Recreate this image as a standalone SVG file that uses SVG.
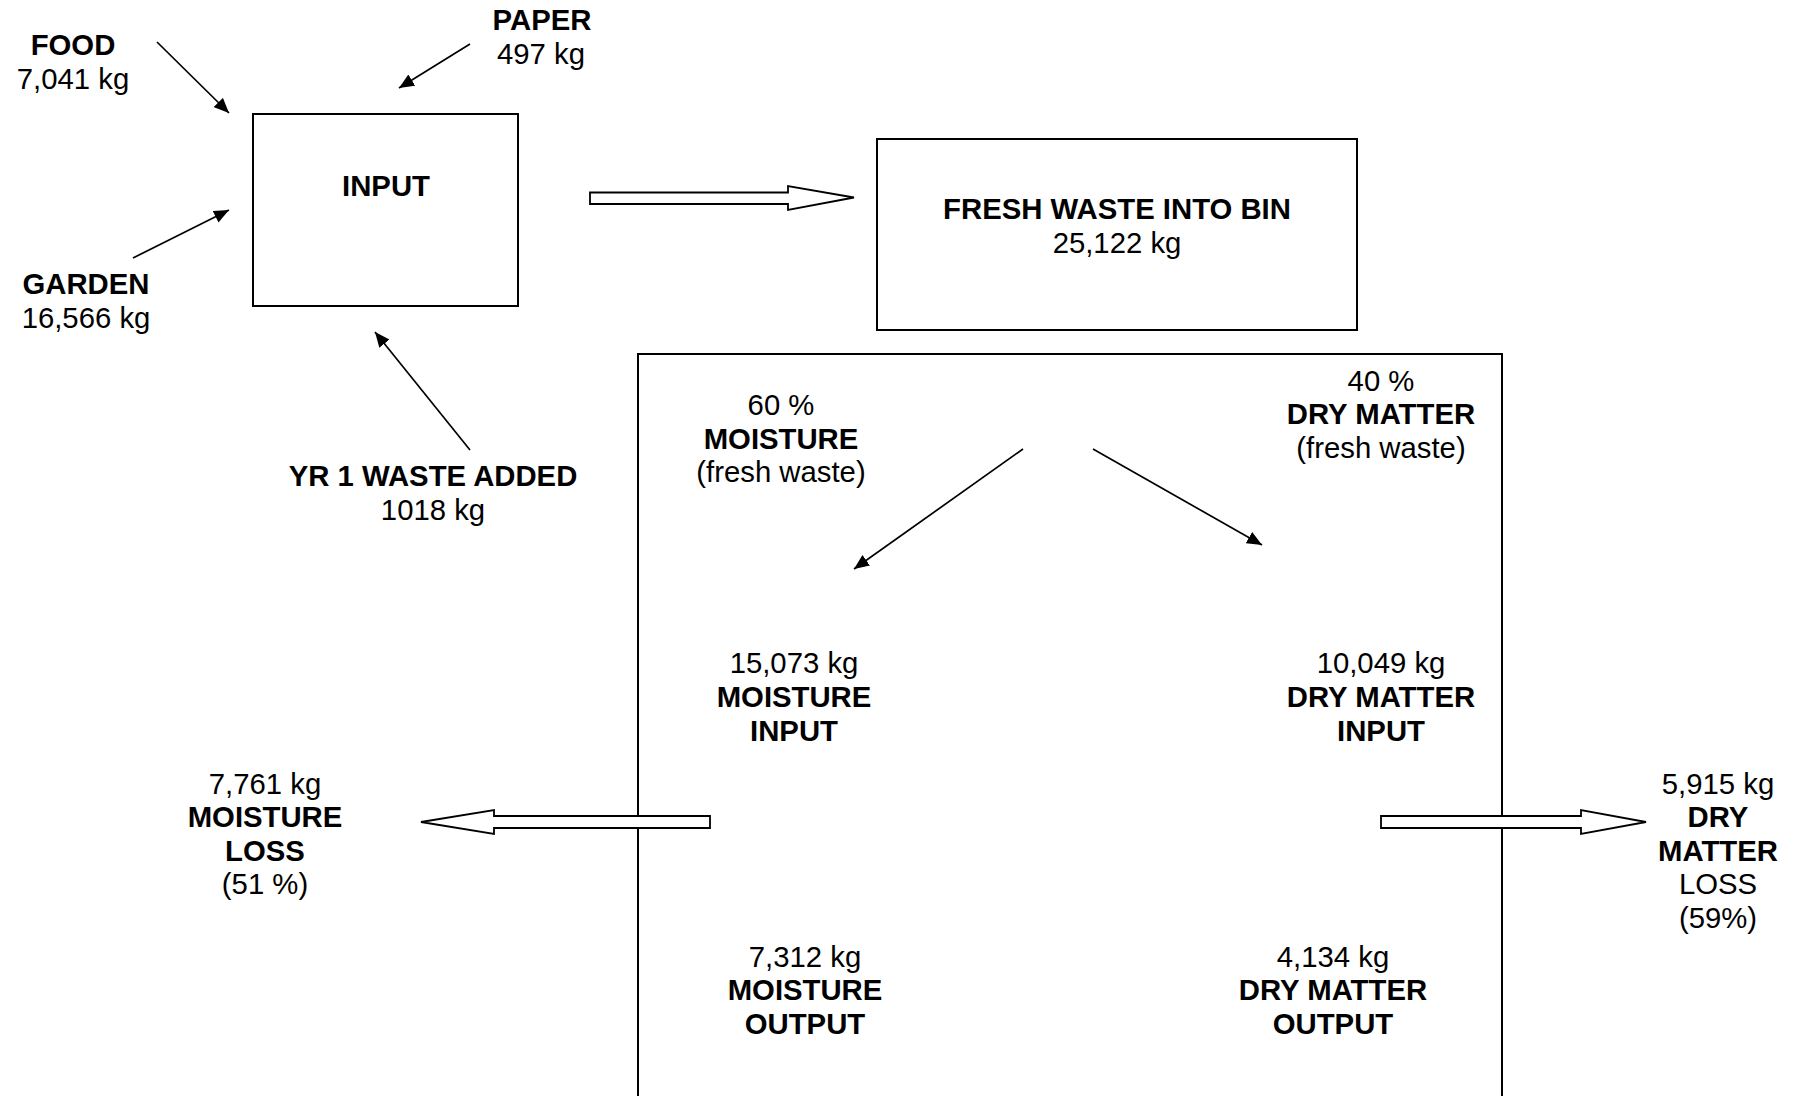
<svg xmlns="http://www.w3.org/2000/svg" width="1796" height="1096" viewBox="0 0 1796 1096">
<defs>
<marker id="ah" viewBox="0 0 10 10" refX="10" refY="5" markerWidth="15" markerHeight="13" markerUnits="userSpaceOnUse" orient="auto" preserveAspectRatio="none"><path d="M0,0 L10,5 L0,10 z" fill="#000"/></marker>
<style>
text{font-family:"Liberation Sans",Arial,sans-serif;font-size:29.3px;fill:#000;text-anchor:middle}
.b{font-weight:bold}
.box{fill:none;stroke:#000;stroke-width:2}
.ln{stroke:#000;stroke-width:1.7;fill:none;marker-end:url(#ah)}
.hol{fill:#fff;stroke:#000;stroke-width:1.8}
</style>
</defs>
<rect width="1796" height="1096" fill="#fff"/>
<g id="bin-box"><rect class="box" x="638" y="354" width="864" height="760"/></g>
<g id="food"><text class="b" x="73" y="55">FOOD</text><text x="73" y="89">7,041 kg</text></g>
<g id="paper"><text class="b" x="542" y="30">PAPER</text><text x="541" y="64">497 kg</text></g>
<g id="garden"><text class="b" x="86" y="294">GARDEN</text><text x="86" y="328">16,566 kg</text></g>
<g id="yr1"><text class="b" x="433" y="486">YR 1 WASTE ADDED</text><text x="433" y="520">1018 kg</text></g>
<g id="input"><rect class="box" x="253" y="114" width="265" height="192"/><text class="b" x="386" y="196">INPUT</text></g>
<g id="fresh"><rect class="box" x="877" y="139" width="480" height="191"/><text class="b" x="1117" y="219">FRESH WASTE INTO BIN</text><text x="1117" y="253">25,122 kg</text></g>
<g id="moist-pct"><text x="781" y="415">60 %</text><text class="b" x="781" y="449">MOISTURE</text><text x="781" y="482">(fresh waste)</text></g>
<g id="dm-pct"><text x="1381" y="391">40 %</text><text class="b" x="1381" y="424">DRY MATTER</text><text x="1381" y="458">(fresh waste)</text></g>
<g id="moist-in"><text x="794" y="673">15,073 kg</text><text class="b" x="794" y="707">MOISTURE</text><text class="b" x="794" y="741">INPUT</text></g>
<g id="dm-in"><text x="1381" y="673">10,049 kg</text><text class="b" x="1381" y="707">DRY MATTER</text><text class="b" x="1381" y="741">INPUT</text></g>
<g id="moist-loss"><text x="265" y="794">7,761 kg</text><text class="b" x="265" y="827">MOISTURE</text><text class="b" x="265" y="861">LOSS</text><text x="265" y="894">(51 %)</text></g>
<g id="dm-loss"><text x="1718" y="794">5,915 kg</text><text class="b" x="1718" y="827">DRY</text><text class="b" x="1718" y="861">MATTER</text><text x="1718" y="894">LOSS</text><text x="1718" y="928">(59%)</text></g>
<g id="moist-out"><text x="805" y="967">7,312 kg</text><text class="b" x="805" y="1000">MOISTURE</text><text class="b" x="805" y="1034">OUTPUT</text></g>
<g id="dm-out"><text x="1333" y="967">4,134 kg</text><text class="b" x="1333" y="1000">DRY MATTER</text><text class="b" x="1333" y="1034">OUTPUT</text></g>
<g id="connectors">
<line class="ln" x1="157" y1="42" x2="229" y2="113"/>
<line class="ln" x1="470" y1="44" x2="399" y2="88"/>
<line class="ln" x1="133" y1="258" x2="229" y2="210"/>
<line class="ln" x1="470" y1="450" x2="375" y2="332"/>
<line class="ln" x1="1023" y1="449" x2="854" y2="569"/>
<line class="ln" x1="1093" y1="449" x2="1262" y2="545"/>
<polygon class="hol" points="590,192.5 788,192.5 788,186 854,197.5 788,210 788,204 590,204"/>
<polygon class="hol" points="710,816 494,816 494,810 421,822 494,834 494,828 710,828"/>
<polygon class="hol" points="1381,816 1581,816 1581,810 1646,822 1581,834 1581,828 1381,828"/>
</g>
</svg>
